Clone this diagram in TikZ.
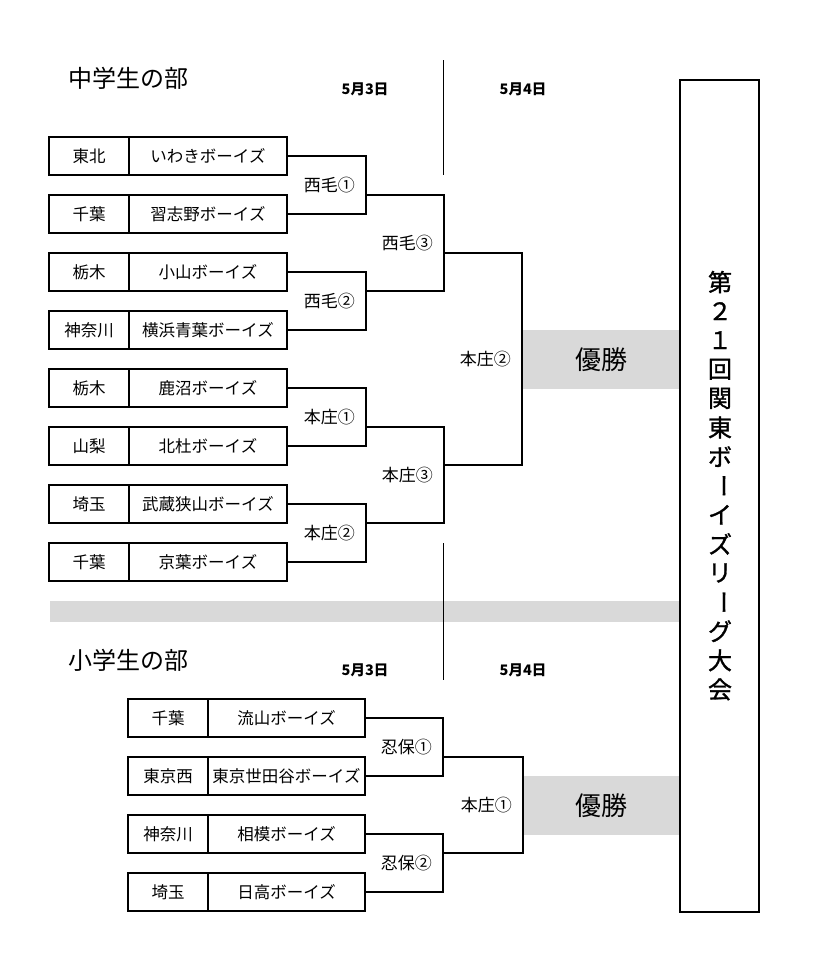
\documentclass[tikz,border=0pt]{standalone}
\usepackage{fontspec}
\setmainfont{Noto Sans CJK JP}
\newfontfamily\ttlfont{Noto Sans CJK JP}[FakeBold=1.2]
\definecolor{bandgray}{RGB}{217,217,217}
\begin{document}
\begin{tikzpicture}[x=1pt,y=-1pt,
  cell/.style={draw=black, line width=1.6pt, minimum height=38pt, inner sep=0pt, font=\fontsize{16.5}{19}\selectfont},
  pref/.style={cell, minimum width=80pt},
  team/.style={cell, minimum width=158pt},
  eteam/.style={cell, minimum width=157pt},
  bracket/.style={draw=black, line width=1.5pt},
  rlbl/.style={anchor=east, inner sep=0pt, font=\fontsize{17}{20}\selectfont},
  datelbl/.style={inner sep=0pt, font=\bfseries\fontsize{14.5}{17}\selectfont},
  head/.style={anchor=west, inner sep=0pt, font=\fontsize{24}{28}\selectfont},
  band/.style={fill=bandgray, draw=none, inner sep=0pt},
  win/.style={band, minimum width=158pt, minimum height=59pt, font=\fontsize{26}{30}\selectfont},
  ttl/.style={font=\ttlfont\fontsize{24}{28}\selectfont, inner sep=0pt},
  divider/.style={draw=black, line width=1.3pt}]
\useasboundingbox (0,0) rectangle (835,980);

% gray bands
\node[win] (win1) at (601,359.5) {優勝};
\node[win, minimum width=157pt] (win2) at (601.5,805.5) {優勝};
\node[band, minimum width=630pt, minimum height=21pt] (sep) at (365,611.5) {};

% title box
\node[draw=black, line width=1.5pt, minimum width=79pt, minimum height=832pt, inner sep=0pt] (tbox) at (719.5,496) {};
\foreach \c/\r [count=\i from 0] in {第/0,２/0,１/0,回/0,関/0,東/0,ボ/0,ー/-90,イ/0,ズ/0,リ/0,ー/-90,グ/0,大/0,会/0}
  \node[ttl, rotate=\r] (c\i) at (720,282+29.1*\i) {\c};

% headers
\node[head] (h1) at (68,78) {中学生の部};
\node[datelbl] (d1) at (365,89) {5月3日};
\node[datelbl] (d2) at (523,89) {5月4日};
\node[head] (h2) at (68,660) {小学生の部};
\node[datelbl] (d3) at (365,670) {5月3日};
\node[datelbl] (d4) at (523,670) {5月4日};
\coordinate (v1) at (443.5,60);
\coordinate (v2) at (443.5,175);
\coordinate (v3) at (443.5,543);
\coordinate (v4) at (443.5,680);
\draw[divider] (v1) -- (v2);
\draw[divider] (v3) -- (v4);

% middle school teams
\node[pref] (p1) at (89,156) {東北};   \node[team] (t1) at (208,156) {いわきボーイズ};
\node[pref] (p2) at (89,214) {千葉};   \node[team] (t2) at (208,214) {習志野ボーイズ};
\node[pref] (p3) at (89,272) {栃木};   \node[team] (t3) at (208,272) {小山ボーイズ};
\node[pref] (p4) at (89,330) {神奈川}; \node[team] (t4) at (208,330) {横浜青葉ボーイズ};
\node[pref] (p5) at (89,388) {栃木};   \node[team] (t5) at (208,388) {鹿沼ボーイズ};
\node[pref] (p6) at (89,446) {山梨};   \node[team] (t6) at (208,446) {北杜ボーイズ};
\node[pref] (p7) at (89,504) {埼玉};   \node[team] (t7) at (208,504) {武蔵狭山ボーイズ};
\node[pref] (p8) at (89,562) {千葉};   \node[team] (t8) at (208,562) {京葉ボーイズ};

% middle school brackets
\coordinate (j1) at (366,195);
\coordinate (j2) at (366,291);
\coordinate (j3) at (366,427);
\coordinate (j4) at (366,523);
\coordinate (k1) at (444,195);
\coordinate (k2) at (444,291);
\coordinate (k3) at (444,253);
\coordinate (k4) at (444,427);
\coordinate (k5) at (444,523);
\coordinate (k6) at (444,465);
\coordinate (f1) at (522,253);
\coordinate (f2) at (522,465);
\draw[bracket] (t1.east) -| (j1) |- (t2.east);
\draw[bracket] (t3.east) -| (j2) |- (t4.east);
\draw[bracket] (t5.east) -| (j3) |- (t6.east);
\draw[bracket] (t7.east) -| (j4) |- (t8.east);
\draw[bracket] (j1) -- (k1) -- (k2) -- (j2);
\draw[bracket] (j3) -- (k4) -- (k5) -- (j4);
\draw[bracket] (k3) -- (f1) -- (f2) -- (k6);

\node[rlbl] (l1) at (355,185) {西毛①};
\node[rlbl] (l2) at (355,301) {西毛②};
\node[rlbl] (l3) at (355,417) {本庄①};
\node[rlbl] (l4) at (355,533) {本庄②};
\node[rlbl] (l5) at (433,243) {西毛③};
\node[rlbl] (l6) at (433,475) {本庄③};
\node[rlbl] (l7) at (511,359) {本庄②};

% elementary teams
\node[pref] (q1) at (168,718) {千葉};   \node[eteam] (u1) at (286.5,718) {流山ボーイズ};
\node[pref] (q2) at (168,776) {東京西}; \node[eteam] (u2) at (286.5,776) {東京世田谷ボーイズ};
\node[pref] (q3) at (168,834) {神奈川}; \node[eteam] (u3) at (286.5,834) {相模ボーイズ};
\node[pref] (q4) at (168,892) {埼玉};   \node[eteam] (u4) at (286.5,892) {日高ボーイズ};

\coordinate (e1) at (443,757);
\coordinate (e2) at (443,853);
\coordinate (g1) at (523,757);
\coordinate (g2) at (523,853);
\draw[bracket] (u1.east) -| (e1) |- (u2.east);
\draw[bracket] (u3.east) -| (e2) |- (u4.east);
\draw[bracket] (e1) -- (g1) -- (g2) -- (e2);

\node[rlbl] (m1) at (432,747) {忍保①};
\node[rlbl] (m2) at (432,863) {忍保②};
\node[rlbl] (m3) at (512,805) {本庄①};
\end{tikzpicture}
\end{document}
